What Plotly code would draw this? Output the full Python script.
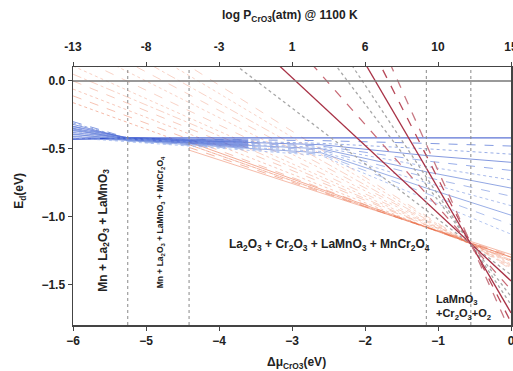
import plotly.graph_objects as go

# ---------------- data ----------------
# Blue family: piecewise values at these chemical-potential knots
blue_x = [-6.0, -5.25, -4.41, -2.6, -1.16, 0.0]
blue_y = [
    [-0.43, -0.42, -0.42, -0.42, -0.42, -0.42],
    [-0.30, -0.42, -0.43, -0.44, -0.46, -0.48],
    [-0.31, -0.425, -0.435, -0.46, -0.50, -0.54],
    [-0.32, -0.425, -0.44, -0.47, -0.55, -0.60],
    [-0.335, -0.43, -0.445, -0.48, -0.59, -0.66],
    [-0.345, -0.43, -0.45, -0.49, -0.63, -0.73],
    [-0.355, -0.435, -0.455, -0.50, -0.67, -0.79],
    [-0.365, -0.435, -0.46, -0.51, -0.71, -0.85],
    [-0.375, -0.44, -0.465, -0.52, -0.75, -0.92],
    [-0.39, -0.44, -0.47, -0.53, -0.79, -0.99],
    [-0.405, -0.445, -0.475, -0.54, -0.83, -1.06],
    [-0.42, -0.45, -0.48, -0.55, -0.87, -1.13],
]
blue_dash = ["solid", "dash", "dot", "solid", "dash", "dot",
             "solid", "dash", "dot", "solid", "dash", "dot"]
blue_col = ["rgba(40,70,200,0.95)", "rgba(90,120,215,0.75)", "rgba(110,140,220,0.7)",
            "rgba(80,110,210,0.7)", "rgba(110,140,225,0.7)", "rgba(130,155,225,0.7)",
            "rgba(100,130,215,0.7)", "rgba(130,155,225,0.7)", "rgba(140,165,230,0.7)",
            "rgba(110,140,220,0.7)", "rgba(140,165,230,0.7)", "rgba(150,175,235,0.7)"]

# Extra dense blue band in the Mn-rich region
band_x = [-6.0, -5.25, -4.41, -3.6]
band_y = [
    [-0.335, -0.42, -0.43, -0.43],
    [-0.35, -0.42, -0.435, -0.44],
    [-0.365, -0.425, -0.44, -0.45],
    [-0.38, -0.425, -0.445, -0.46],
    [-0.395, -0.43, -0.45, -0.47],
    [-0.41, -0.43, -0.455, -0.48],
    [-0.425, -0.435, -0.46, -0.49],
]

# Orange lines: energy at Δμ = -6, -4.41 and 0 (None = not drawn there)
orange_x = [-6.0, -4.41, 0.0]
orange_y = [
    [None, -0.45, -1.30],
    [None, -0.47, -1.30],
    [None, -0.49, -1.29],
    [None, -0.51, -1.28],
    [-0.16, -0.47, -1.30],
    [-0.11, -0.43, -1.31],
    [-0.06, -0.39, -1.32],
    [0.00, -0.35, -1.32],
    [0.05, -0.31, -1.33],
    [0.11, -0.27, -1.33],
    [0.19, -0.22, -1.34],
    [0.27, -0.16, -1.35],
    [0.35, -0.10, -1.36],
    [0.44, -0.04, -1.37],
    [0.54, 0.04, -1.38],
    [0.65, 0.11, -1.39],
]
orange_dash = ["solid", "dot", "dash", "solid", "dot", "dash", "dot", "dash",
               "dashdot", "dot", "dash", "dot", "dash", "dashdot", "dot", "dash"]
orange_alpha = [0.6, 0.55, 0.55, 0.5, 0.5, 0.45, 0.4, 0.38,
                0.35, 0.35, 0.33, 0.33, 0.33, 0.33, 0.33, 0.33]

# Steep lines: energy at Δμ = -6 and Δμ = 0
steep_x = [-6.0, 0.0]
steep_left = [1.03, 1.525, 2.12, 2.67, 3.21, 3.81, 4.58, 5.34]
steep_right = [-1.43, -1.475, -1.54, -1.59, -1.65, -1.71, -1.78, -1.86]
steep_col = ["#a8a8a8", "#a83246", "#c86a76", "#a8a8a8", "#a8a8a8",
             "#a83246", "#b84a5a", "#c87a84"]
steep_dash = ["dot", "solid", "dash", "dot", "dot", "solid", "dash", "dash"]

# Phase boundaries (Δμ)
boundaries = [-5.25, -4.41, -1.16, -0.55]

# Axis ticks
bottom_ticks = [-6, -5, -4, -3, -2, -1, 0]
top_labels = ["-13", "-8", "-3", "1", "6", "10", "15"]
y_ticks = [0.0, -0.5, -1.0, -1.5]

# ---------------- figure ----------------
fig = go.Figure()

for ys, d, a in zip(orange_y, orange_dash, orange_alpha):
    fig.add_trace(go.Scatter(x=orange_x, y=ys, mode="lines",
                             line=dict(color=f"rgba(232,105,65,{a})", width=0.9, dash=d),
                             hoverinfo="skip", showlegend=False))

for ys in band_y:
    fig.add_trace(go.Scatter(x=band_x, y=ys, mode="lines",
                             line=dict(color="rgba(55,85,210,0.6)", width=1.2),
                             hoverinfo="skip", showlegend=False))

for ys, d, c in zip(blue_y, blue_dash, blue_col):
    fig.add_trace(go.Scatter(x=blue_x, y=ys, mode="lines",
                             line=dict(color=c, width=1, dash=d),
                             hoverinfo="skip", showlegend=False))

for yl, yr, c, d in zip(steep_left, steep_right, steep_col, steep_dash):
    fig.add_trace(go.Scatter(x=steep_x, y=[yl, yr], mode="lines",
                             line=dict(color=c, width=1.3, dash=d),
                             hoverinfo="skip", showlegend=False))

# zero line
fig.add_trace(go.Scatter(x=[-6, 0], y=[0, 0], mode="lines",
                         line=dict(color="#777777", width=1.5),
                         hoverinfo="skip", showlegend=False))

for b in boundaries:
    fig.add_shape(type="line", x0=b, x1=b, y0=0, y1=1, xref="x", yref="paper",
                  line=dict(color="#888888", width=1, dash="dot"))

# dummy trace for top axis
fig.add_trace(go.Scatter(x=[-6, 0], y=[None, None], xaxis="x2", yaxis="y",
                         mode="lines", showlegend=False, hoverinfo="skip"))

tickfont = dict(family="Liberation Sans, Arial", size=12, color="#222222", weight="bold")

fig.update_layout(
    width=513, height=371,
    margin=dict(l=73, r=2, t=67, b=46),
    paper_bgcolor="white", plot_bgcolor="white",
    showlegend=False,
    xaxis=dict(range=[-6, 0], tickvals=bottom_ticks, ticks="outside", ticklen=4,
               tickcolor="#444", showline=True, linecolor="#444", linewidth=1.5,
               showgrid=False, zeroline=False, tickfont=tickfont, mirror=False,
               automargin=False, ticklabeloverflow="allow"),
    xaxis2=dict(range=[-6, 0], overlaying="x", side="top", tickvals=bottom_ticks,
                ticktext=top_labels, ticks="outside", ticklen=4, tickcolor="#444",
                showline=True, linecolor="#444", linewidth=1.5, showgrid=False,
                zeroline=False, tickfont=tickfont, ticklabelstandoff=6,
                automargin=False, ticklabeloverflow="allow"),
    yaxis=dict(range=[-1.80, 0.103], tickvals=y_ticks, tickformat=".1f",
               ticks="outside", ticklen=4, tickcolor="#444", showline=True,
               linecolor="#444", linewidth=1.5, mirror=True, showgrid=False,
               zeroline=False, tickfont=tickfont, automargin=False),
)

afont = dict(family="Liberation Sans, Arial", color="#222222", weight="bold")

annotations = [
    dict(text="log P<sub>CrO3</sub>(atm) @ 1100 K", x=0.495, y=1.198, xref="paper",
         yref="paper", xanchor="center", yanchor="middle", showarrow=False,
         font=dict(size=12, **afont)),
    dict(text="Δμ<sub>CrO3</sub>(eV)", x=0.51, y=-0.147, xref="paper", yref="paper",
         xanchor="center", yanchor="middle", showarrow=False, font=dict(size=12, **afont)),
    dict(text="E<sub>d</sub>(eV)", x=-0.121, y=0.52, xref="paper", yref="paper",
         xanchor="center", yanchor="middle",
         textangle=-90, showarrow=False, font=dict(size=12, **afont)),
    dict(text="Mn + La<sub>2</sub>O<sub>3</sub> + LaMnO<sub>3</sub>", x=-5.58, y=-1.10,
         xanchor="center", yanchor="middle",
         textangle=-90, showarrow=False, font=dict(size=12, **afont)),
    dict(text="Mn + La<sub>2</sub>O<sub>3</sub> + LaMnO<sub>3</sub> + MnCr<sub>2</sub>O<sub>4</sub>",
         x=-4.79, y=-1.04, xanchor="center", yanchor="middle",
         textangle=-90, showarrow=False, font=dict(size=8.5, **afont)),
    dict(text="La<sub>2</sub>O<sub>3</sub> + Cr<sub>2</sub>O<sub>3</sub> + LaMnO<sub>3</sub> + MnCr<sub>2</sub>O<sub>4</sub>",
         x=-2.48, y=-1.21, xanchor="center", yanchor="middle",
         showarrow=False, font=dict(size=12, **afont)),
    dict(text="LaMnO<sub>3</sub><br>+Cr<sub>2</sub>O<sub>3</sub>+O<sub>2</sub>", x=-1.06, y=-1.67,
         xanchor="left", yanchor="middle", align="left", showarrow=False,
         font=dict(size=11, **afont)),
]
fig.update_layout(annotations=annotations)

fig.write_html("out.html",
               config={"displayModeBar": False, "staticPlot": True},
               post_script="document.body.style.margin='0';document.body.style.overflow='hidden';")
